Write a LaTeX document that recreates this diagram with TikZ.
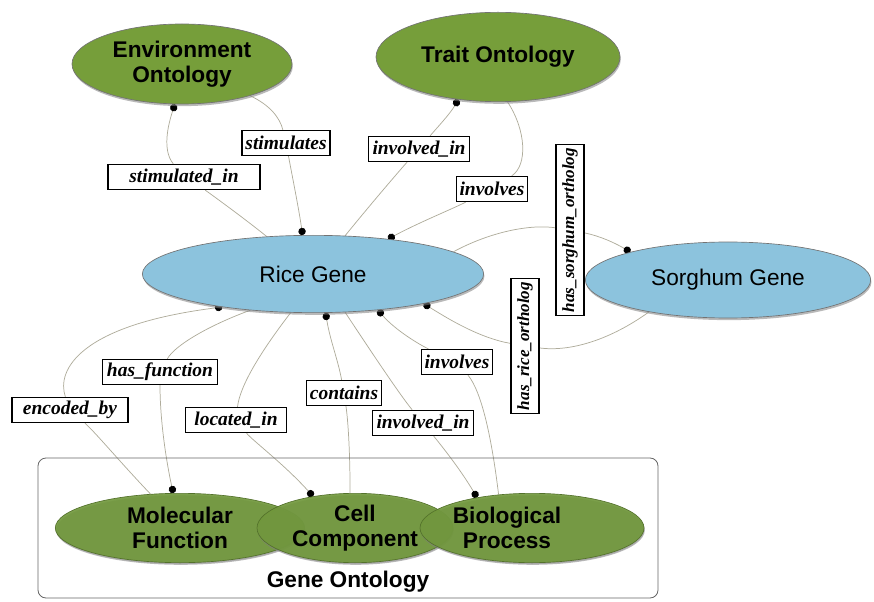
\documentclass[tikz,border=0pt]{standalone}
\usepackage{fontspec}
\setmainfont{Liberation Serif}
\setsansfont{Liberation Sans}
\usetikzlibrary{shapes.geometric,arrows.meta,shadows}
\pgfdeclarelayer{background}
\pgfsetlayers{background,main}

\definecolor{ontgreen}{RGB}{118,158,58}
\definecolor{gogreen}{RGB}{112,152,58}
\definecolor{genblue}{RGB}{140,195,221}
\definecolor{edgegrey}{RGB}{175,172,155}

\tikzset{
  concept/.style={ellipse, draw=black!55, line width=0.5pt,
    font=\sffamily\bfseries\fontsize{17}{19}\selectfont, align=center, inner sep=0pt,
    drop shadow={shadow xshift=0.6pt, shadow yshift=-1.6pt, opacity=0.55}},
  onto/.style={concept, fill=ontgreen},
  gene/.style={concept, fill=genblue, font=\sffamily\fontsize{17}{19}\selectfont},
  goterm/.style={concept, fill=gogreen, fill opacity=0.9, text opacity=1,
    draw=black!25!gogreen, drop shadow={shadow xshift=0.4pt, shadow yshift=-1pt,
    opacity=0.3}},
  gotext/.style={font=\sffamily\bfseries\fontsize{17}{19}\selectfont, align=center},
  rel/.style={draw=black, line width=1pt, fill=white, inner xsep=2.5pt, inner ysep=0pt,
    minimum height=18.75pt, font=\bfseries\itshape\fontsize{14.6}{16}\selectfont},
  vrel/.style={rel, rotate=90, font=\bfseries\itshape\fontsize{12.8}{14}\selectfont,
    minimum height=21pt},
  link/.style={draw=edgegrey, line width=0.55pt, -{Circle[length=5.5pt, black]}},
  x=0.75pt, y=-0.75pt
}

\begin{document}
\begin{tikzpicture}
\useasboundingbox (0,0) rectangle (874,602);

% ontology and gene concepts
\node[onto, minimum width=165pt, minimum height=60pt] (env) at (182,64)
  {Environment\\Ontology};
\node[onto, minimum width=183pt, minimum height=67pt] (trait) at (498,57)
  {Trait Ontology};
\node[gene, minimum width=256pt, minimum height=58pt] (rice) at (313,274) {Rice Gene};
\node[gene, minimum width=214pt, minimum height=57pt] (sorghum) at (728,280)
  {Sorghum Gene};

% Gene Ontology group
\node[draw=black!60, line width=0.6pt, rounded corners=6pt, minimum width=465pt,
  minimum height=105pt, inner sep=0pt] (gobox) at (348,528) {};
\node[gotext] (golabel) at (348,582) {Gene Ontology};
\node[goterm, minimum width=187pt, minimum height=52pt] (mol) at (180,528) {};
\node[goterm, minimum width=147pt, minimum height=52pt] (cell) at (355,528) {};
\node[goterm, minimum width=168pt, minimum height=52pt] (bio) at (532,528) {};
\node[gotext] (moltext) at (180,528) {Molecular\\Function};
\node[gotext] (celltext) at (355,528) {Cell\\Component};
\node[gotext] (biotext) at (507,528) {Biological\\Process};

% relation labels
\node[rel, minimum width=114pt] (si) at (184,177) {stimulated\_in};
\node[rel, minimum width=66pt] (st) at (286,143) {stimulates};
\node[rel, minimum width=76pt] (iit) at (419,149) {involved\_in};
\node[rel, minimum width=53pt] (ivt) at (492,189) {involves};
\node[vrel, minimum width=127pt] (hs) at (570,230) {has\_sorghum\_ortholog};
\node[vrel, minimum width=100pt] (hr) at (525,346) {has\_rice\_ortholog};
\node[rel, minimum width=53pt] (ivb) at (457,362) {involves};
\node[rel, minimum width=76pt] (iib) at (423,423) {involved\_in};
\node[rel, minimum width=56pt] (ct) at (344,393) {contains};
\node[rel, minimum width=76pt] (li) at (236,420) {located\_in};
\node[rel, minimum width=86pt] (hf) at (160,372) {has\_function};
\node[rel, minimum width=87pt] (eb) at (70,410) {encoded\_by};

% relation edges, drawn beneath the nodes
\begin{pgfonlayer}{background}
\draw[link] (rice.141.6) .. controls (240,215) and (205,190) .. (si)
  .. controls (162,150) and (168,125) .. (env.-100);
\draw[link] (env.-25.9) .. controls (270,105) and (280,118) .. (st)
  .. controls (293,180) and (299,210) .. (rice.105.8);
\draw[link] (rice.50.1) .. controls (370,205) and (400,170) .. (iit)
  .. controls (435,130) and (450,114) .. (trait.-133);
\draw[link] (trait.-78.7) .. controls (526,130) and (528,165) .. (ivt)
  .. controls (450,210) and (420,222) .. (rice.25);
\draw[link] (rice.9.1) .. controls (490,232) and (530,224) .. (hs)
  .. controls (600,236) and (615,243) .. (sorghum.164.8);
\draw[link] (sorghum.-158.9) .. controls (610,340) and (570,352) .. (hr)
  .. controls (480,338) and (450,320) .. (rice.-15.9);
\draw[link] (bio.135.6) .. controls (492,440) and (482,392) .. (ivb)
  .. controls (420,345) and (395,330) .. (rice.-29.5);
\draw[link] (rice.-50.1) .. controls (370,350) and (400,395) .. (iib)
  .. controls (445,450) and (462,472) .. (bio.151.6);
\draw[link] (cell.98) .. controls (350,450) and (348,420) .. (ct)
  .. controls (338,360) and (330,340) .. (rice.-72.9);
\draw[link] (rice.-120.8) .. controls (262,350) and (240,385) .. (li)
  .. controls (252,440) and (285,465) .. (cell.143.8);
\draw[link] (rice.-150) .. controls (210,325) and (175,345) .. (hf)
  .. controls (160,420) and (166,460) .. (mol.101);
\draw[link] (mol.131) .. controls (120,462) and (95,432) .. (eb)
  .. controls (56,370) and (80,325) .. (rice.-160);
\end{pgfonlayer}
\end{tikzpicture}
\end{document}
